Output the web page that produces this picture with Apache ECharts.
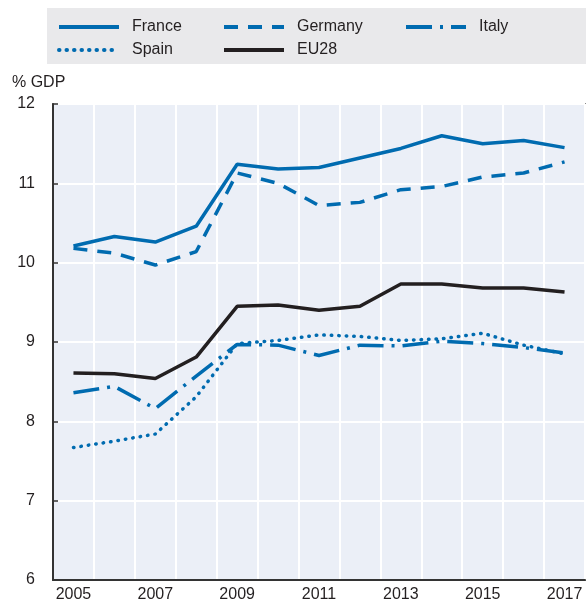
<!DOCTYPE html>
<html>
<head>
<meta charset="utf-8">
<script src="https://cdn.jsdelivr.net/npm/echarts@6/dist/echarts.min.js"></script>
<style>html,body{margin:0;padding:0;background:#fff}#c{width:586px;height:605px}</style>
</head>
<body>
<div id="c"></div>
<script>
const years = ['2005','2006','2007','2008','2009','2010','2011','2012','2013','2014','2015','2016','2017'];
const france  = [10.21,10.33,10.26,10.46,11.24,11.18,11.20,11.32,11.44,11.60,11.50,11.54,11.45];
const germany = [10.18,10.12,9.97,10.14,11.13,11.00,10.72,10.76,10.92,10.96,11.08,11.13,11.27];
const italy   = [8.36,8.44,8.16,8.57,8.97,8.96,8.83,8.96,8.95,9.01,8.98,8.93,8.86];
const spain   = [7.67,7.75,7.84,8.31,8.98,9.02,9.09,9.07,9.02,9.04,9.11,8.96,8.85];
const eu28    = [8.61,8.60,8.54,8.81,9.45,9.465,9.40,9.45,9.73,9.73,9.68,9.68,9.63];
const yTicks  = [6,7,8,9,10,11,12];

const BLUE = '#006BB0', BLACK = '#231F20';
const FONT = 'Liberation Sans';
const chart = echarts.init(document.getElementById('c'), null, {renderer:'canvas'});

function mk(name, data, color, type, width, cap) {
  return {
    name, type:'line', data, symbol:'none', smooth:false,
    lineStyle:{color, width, type, cap: cap || 'butt'},
    itemStyle:{color},
    z: name === 'EU28' ? 3 : 2
  };
}
function lg(name, left, top) {
  return {
    data:[name], left, top, itemWidth:60, itemHeight:14, padding:0,
    itemStyle:{opacity:0},
    lineStyle:{width:4},
    textStyle:{fontFamily:FONT, fontSize:16, color:BLACK, padding:[0,0,0,8]},
    selectedMode:false
  };
}

chart.setOption({
  animation:false,
  backgroundColor:'#fff',
  graphic:[
    {type:'rect', left:47, top:8, shape:{width:539, height:56}, style:{fill:'#E9E9EB'}, z:-10},
    {type:'text', left:12, top:75, style:{text:'% GDP', fontFamily:FONT, fontSize:16, fill:BLACK}}
  ],
  legend:[
    lg('France', 57, 19), lg('Germany', 222, 19), lg('Italy', 404, 19),
    lg('Spain', 57, 42), lg('EU28', 222, 42)
  ],
  grid:{left:53, right:1, top:104, bottom:25, show:true, backgroundColor:'#EBEFF7', borderColor:'#333', borderWidth:1.5},
  xAxis:{
    type:'category', data:years, boundaryGap:true,
    axisLine:{lineStyle:{color:'#333', width:2}},
    axisTick:{inside:true, length:5, lineStyle:{color:'#333', width:1.5}},
    axisLabel:{interval:1, fontFamily:FONT, fontSize:16, color:BLACK, margin:7},
    splitLine:{show:true, interval:0, lineStyle:{color:'#fff', width:2}}
  },
  yAxis:{
    type:'value', min:yTicks[0], max:yTicks[yTicks.length-1], interval:1,
    axisLine:{show:true, lineStyle:{color:'#333', width:2}},
    axisTick:{show:true, inside:true, length:5, lineStyle:{color:'#333', width:1.5}},
    axisLabel:{fontFamily:FONT, fontSize:16, color:BLACK, margin:18},
    splitLine:{show:true, lineStyle:{color:'#fff', width:2}}
  },
  series:[
    mk('France', france, BLUE, 'solid', 3.5),
    mk('Germany', germany, BLUE, [14,10], 3.5),
    mk('Italy', italy, BLUE, [26,8,3,8], 3.5),
    mk('Spain', spain, BLUE, [0.5,7], 3.5, 'round'),
    mk('EU28', eu28, BLACK, 'solid', 3.5)
  ]
});
</script>
</body>
</html>
